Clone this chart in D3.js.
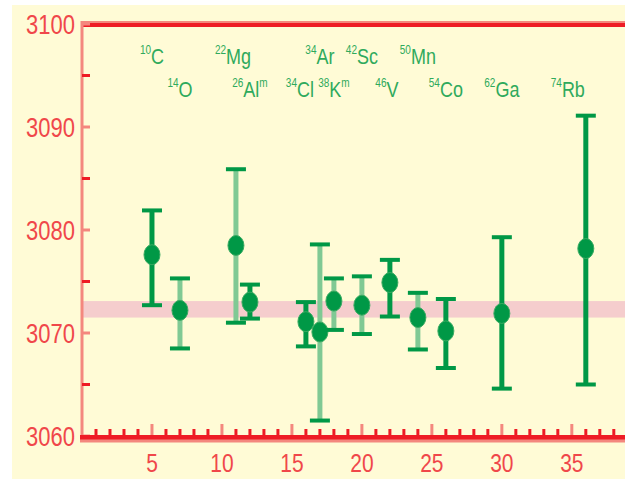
<!DOCTYPE html>
<html lang="en">
<head>
  <meta charset="UTF-8">
  <title>Ft values</title>
  <script src="https://d3js.org/d3.v7.min.js"></script>
  <style>
    body { margin: 0; padding: 0; background: #fff; }
    svg { display: block; font-family: "Liberation Sans", Arial, sans-serif; }
  </style>
</head>
<body>
<svg width="625" height="479"></svg>
<script>
  // nuclides (x = Z of daughter)
  const zDaughter = [5, 7, 11, 12, 16, 17, 18, 20, 22, 24, 26, 30, 36];
  const massNum   = ["10", "14", "22", "26", "34", "34", "38", "42", "46", "50", "54", "62", "74"];
  const element   = ["C", "O", "Mg", "Al", "Cl", "Ar", "K", "Sc", "V", "Mn", "Co", "Ga", "Rb"];
  const isomer    = ["", "", "", "m", "", "", "m", "", "", "", "", "", ""];
  const labelRow  = [0, 1, 0, 1, 1, 0, 1, 0, 1, 0, 1, 1, 1];
  const ftValue   = [3077.6, 3072.2, 3078.5, 3073.0, 3071.1, 3070.1, 3073.1, 3072.7, 3074.9, 3071.5, 3070.2, 3071.9, 3078.2];
  const ftUpper   = [3081.9, 3075.3, 3085.9, 3074.7, 3073.0, 3078.6, 3075.3, 3075.5, 3077.1, 3073.9, 3073.3, 3079.3, 3091.1];
  const ftLower   = [3072.7, 3068.5, 3071.0, 3071.4, 3068.7, 3061.5, 3070.3, 3069.9, 3071.6, 3068.4, 3066.6, 3064.6, 3065.0];
  const dataSet   = ["a", "b", "b", "a", "a", "b", "b", "b", "a", "b", "a", "a", "a"];
  const avgBand   = [3071.5, 3073.1];
  const yTicks    = [3060, 3070, 3080, 3090, 3100];
  const xTicks    = [5, 10, 15, 20, 25, 30, 35];

  const red = "#ee1c25", redLight = "#f4877e", redText = "#f0474a";
  const green = "#009846", greenLight = "#80c994";

  const svg = d3.select("svg");
  const W = 625, H = 479;
  const mLeft = 82, mTop = 24, mBottom = 436;

  const x = d3.scaleLinear().domain([0, 38.8]).range([mLeft, W]);
  const y = d3.scaleLinear().domain([3060, 3100]).range([mBottom, mTop]);

  // background
  svg.append("rect").attr("x", 12).attr("y", 5).attr("width", W - 12).attr("height", H - 5).attr("fill", "#fffbd6");

  // average band
  svg.append("rect")
    .attr("x", mLeft).attr("width", W - mLeft)
    .attr("y", y(avgBand[1])).attr("height", y(avgBand[0]) - y(avgBand[1]))
    .attr("fill", "#f5cdcd");

  // frame
  svg.append("line").attr("x1", mLeft).attr("x2", W).attr("y1", mTop - 2).attr("y2", mTop - 2)
    .attr("stroke", redLight).attr("stroke-width", 2);
  svg.append("line").attr("x1", mLeft).attr("x2", W).attr("y1", mTop + 1).attr("y2", mTop + 1)
    .attr("stroke", red).attr("stroke-width", 4);
  svg.append("line").attr("x1", mLeft).attr("x2", mLeft).attr("y1", mTop - 3).attr("y2", mBottom + 6)
    .attr("stroke", redLight).attr("stroke-width", 3);

  // left ticks
  const yMinor = d3.range(3060, 3101, 5);
  svg.append("g").selectAll("line").data(yMinor).join("line")
    .attr("x1", mLeft).attr("x2", mLeft + 8)
    .attr("y1", d => y(d)).attr("y2", d => y(d))
    .attr("stroke", d => d % 10 === 0 ? redLight : red).attr("stroke-width", 3);

  // bottom ticks
  const xMinor = d3.range(1, 39);
  svg.append("g").selectAll("line").data(xMinor).join("line")
    .attr("x1", d => x(d)).attr("x2", d => x(d))
    .attr("y1", mBottom).attr("y2", d => d % 5 === 0 ? mBottom - 12 : mBottom - 7)
    .attr("stroke", d => d % 5 === 0 ? redLight : red).attr("stroke-width", 3);

  svg.append("line").attr("x1", mLeft - 2).attr("x2", W).attr("y1", mBottom + 1.5).attr("y2", mBottom + 1.5)
    .attr("stroke", red).attr("stroke-width", 5);
  svg.append("line").attr("x1", mLeft - 2).attr("x2", W).attr("y1", mBottom + 5).attr("y2", mBottom + 5)
    .attr("stroke", redLight).attr("stroke-width", 3);

  // tick labels (image is stretched vertically)
  svg.append("g").selectAll("g").data(yTicks).join("g")
    .attr("transform", d => `translate(75,${y(d) + 10}) scale(1,1.22)`)
    .append("text")
    .attr("text-anchor", "end").attr("font-size", 22).attr("fill", redText)
    .text(d => d);

  svg.append("g").selectAll("g").data(xTicks).join("g")
    .attr("transform", d => `translate(${x(d)},${472}) scale(1,1.22)`)
    .append("text")
    .attr("text-anchor", "middle").attr("font-size", 21).attr("fill", redText)
    .text(d => d);

  // error bars
  const idx = d3.range(zDaughter.length);
  const bars = svg.append("g").selectAll("g").data(idx).join("g");
  bars.append("line")
    .attr("x1", i => x(zDaughter[i])).attr("x2", i => x(zDaughter[i]))
    .attr("y1", i => y(ftUpper[i])).attr("y2", i => y(ftLower[i]))
    .attr("stroke", i => dataSet[i] === "a" ? green : greenLight)
    .attr("stroke-width", 5);
  [ftUpper, ftLower].forEach(arr => {
    bars.append("line")
      .attr("x1", i => x(zDaughter[i]) - 10).attr("x2", i => x(zDaughter[i]) + 10)
      .attr("y1", i => y(arr[i])).attr("y2", i => y(arr[i]))
      .attr("stroke", green).attr("stroke-width", 4);
  });
  bars.append("ellipse")
    .attr("cx", i => x(zDaughter[i])).attr("cy", i => y(ftValue[i]))
    .attr("rx", 8).attr("ry", 10)
    .attr("fill", green).attr("stroke", "#3aaa62").attr("stroke-width", 1);

  // nuclide labels, a few nudged sideways so neighbours don't collide
  const nudge = { Cl: -6, Mg: -3, V: -3, Rb: -18 };
  const labels = svg.append("g").selectAll("g").data(idx).join("g")
    .attr("transform", i => `translate(${x(zDaughter[i]) + (nudge[element[i]] || 0)},${labelRow[i] === 0 ? 64 : 97}) scale(1,1.22)`);
  const lt = labels.append("text")
    .attr("text-anchor", "middle").attr("fill", "#2faa5c").attr("font-size", 18);
  lt.append("tspan").attr("font-size", 10).attr("dy", -8).text(i => massNum[i]);
  lt.append("tspan").attr("dy", 8).text(i => element[i]);
  lt.append("tspan").attr("font-size", 10).attr("dy", -8).text(i => isomer[i]);
</script>
</body>
</html>
